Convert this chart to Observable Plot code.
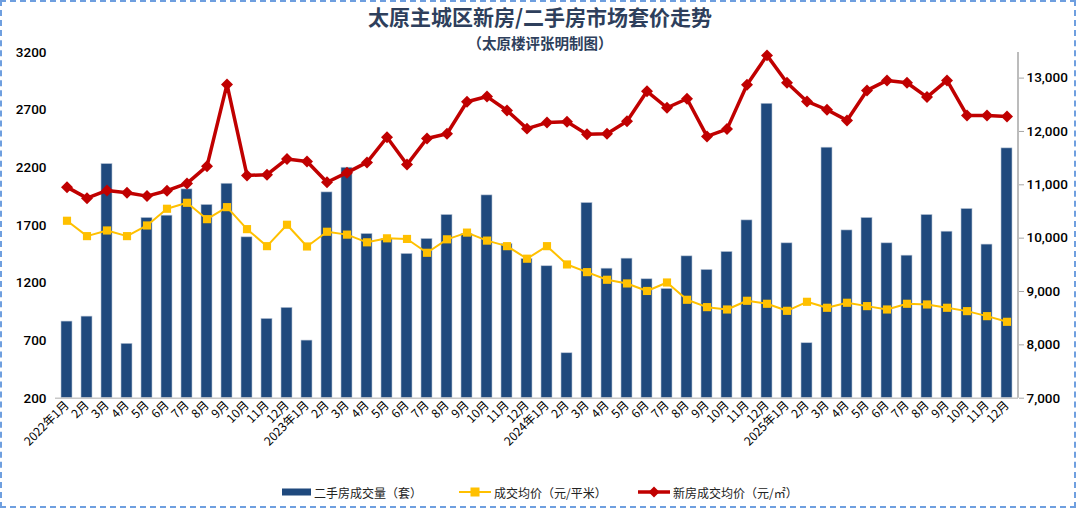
<!DOCTYPE html>
<html>
<head>
<meta charset="utf-8">
<script src="https://cdn.jsdelivr.net/npm/d3@7"></script>
<script src="https://cdn.jsdelivr.net/npm/@observablehq/plot@0.6"></script>
<style>
  html, body { margin: 0; padding: 0; background: #fff; }
  #wrap { position: relative; width: 1080px; height: 510px; overflow: hidden; font-family: "Noto Sans CJK SC", "Liberation Sans", sans-serif; }
  #border { position: absolute; left: 0; top: 0; width: 1076px; height: 508px; border: 2px dashed #6f9fdf; box-sizing: border-box; }
  #title { position: absolute; top: 1px; left: 0; width: 1080px; text-align: center; font-size: 21px; line-height: 1.45; font-weight: 700; color: #2e3f5c; }
  #subtitle { position: absolute; top: 31.5px; left: 0; width: 1080px; text-align: center; font-size: 14.5px; line-height: 1.45; font-weight: 700; color: #2e3f5c; }
  #chart { position: absolute; left: 0; top: 0; }
  .leg { position: absolute; top: 484px; height: 16px; display: flex; align-items: center; font-size: 12px; color: #222; white-space: nowrap; }
  .leg svg { margin-right: 3px; }
</style>
</head>
<body>
<div id="wrap">
  <div id="border"></div>
  <div id="chart"></div>
  <div id="title">太原主城区新房/二手房市场套价走势</div>
  <div id="subtitle">（太原楼评张明制图）</div>
  <div class="leg" style="left:282px"><svg width="29" height="8"><rect x="0" y="0.5" width="29" height="7" fill="#1F497D"></rect></svg>二手房成交量（套）</div>
  <div class="leg" style="left:459px"><svg width="32" height="12"><line x1="0" x2="32" y1="6" y2="6" stroke="#FFC000" stroke-width="2"></line><rect x="11.5" y="1.5" width="9" height="9" fill="#FFC000"></rect></svg>成交均价（元/平米）</div>
  <div class="leg" style="left:638px"><svg width="32" height="12"><line x1="0" x2="32" y1="6" y2="6" stroke="#C00000" stroke-width="3.5"></line><path d="M16,0.5 L21.5,6 L16,11.5 L10.5,6 Z" fill="#C00000"></path></svg>新房成交均价（元/㎡）</div>
</div>
<script>
// ---- data ----
const xLabels = [
  "2022年1月","2月","3月","4月","5月","6月","7月","8月","9月","10月","11月","12月",
  "2023年1月","2月","3月","4月","5月","6月","7月","8月","9月","10月","11月","12月",
  "2024年1月","2月","3月","4月","5月","6月","7月","8月","9月","10月","11月","12月",
  "2025年1月","2月","3月","4月","5月","6月","7月","8月","9月","10月","11月","12月"
];
// 二手房成交量（套） - left axis
const volume = [
  865, 908, 2232, 672, 1764, 1784, 2012, 1877, 2061, 1596, 888, 984,
  700, 1986, 2200, 1625, 1582, 1452, 1582, 1790, 1625, 1960, 1538, 1408,
  1345, 590, 1894, 1324, 1411, 1232, 1148, 1431, 1313, 1469, 1743, 2755,
  1544, 677, 2374, 1656, 1764, 1544, 1437, 1790, 1645, 1842, 1533, 2368
];
// 成交均价（元/平米） - right axis
const usedPrice = [
  10326, 10038, 10144, 10038, 10238, 10551, 10663, 10356, 10581, 10169, 9850, 10251,
  9844, 10120, 10066, 9922, 9997, 9985, 9726, 9978, 10104, 9954, 9850, 9615,
  9850, 9507, 9363, 9220, 9151, 9010, 9169, 8845, 8707, 8663, 8826, 8770,
  8638, 8807, 8695, 8789, 8726, 8663, 8770, 8757, 8695, 8632, 8538, 8432
];
// 新房成交均价（元/㎡） - right axis
const newPrice = [
  10956, 10750, 10894, 10851, 10788, 10889, 11026, 11350, 12882, 11176, 11189, 11485,
  11438, 11047, 11228, 11420, 11891, 11379, 11869, 11957, 12556, 12654, 12394, 12053,
  12166, 12180, 11948, 11957, 12191, 12753, 12444, 12613, 11907, 12044, 12876, 13426,
  12913, 12563, 12407, 12207, 12769, 12957, 12913, 12644, 12957, 12300, 12300, 12282
];
const leftTicks = [200, 700, 1200, 1700, 2200, 2700, 3200];
const rightTicks = [7000, 8000, 9000, 10000, 11000, 12000, 13000];
const leftDomain = [200, 3200];
const rightDomain = [7000, 13480];

// map right-axis values into left-axis space (dual axis)
const toLeft = v => leftDomain[0] + (v - rightDomain[0]) * (leftDomain[1] - leftDomain[0]) / (rightDomain[1] - rightDomain[0]);
const fromLeft = v => rightDomain[0] + (v - leftDomain[0]) * (rightDomain[1] - rightDomain[0]) / (leftDomain[1] - leftDomain[0]);

const idx = d3.range(xLabels.length);
const W = 1080, H = 470;
const mL = 55, mR = 62, mT = 52, mB = H - 397.7;

const chart = Plot.plot({
  width: W,
  height: H,
  marginLeft: mL,
  marginRight: mR,
  marginTop: mT,
  marginBottom: mB,
  style: { fontFamily: "Roboto, 'Liberation Sans', 'Noto Sans CJK SC', sans-serif", fontSize: "13px", color: "#000", background: "transparent", overflow: "visible" },
  x: { type: "band", domain: idx, paddingInner: 0.47, paddingOuter: 0.235, align: 0.5 },
  y: { domain: leftDomain },
  marks: [
    Plot.barY(idx, { x: i => i, y1: leftDomain[0], y2: i => volume[i], fill: "#1F497D", stroke: "#b9c5d6", strokeWidth: 0.6 }),
    Plot.ruleY([leftDomain[0]], { stroke: "#c8c8c8", strokeWidth: 1.5 }),
    Plot.line(idx, { x: i => i, y: i => toLeft(usedPrice[i]), stroke: "#FFC000", strokeWidth: 2 }),
    Plot.dot(idx, { x: i => i, y: i => toLeft(usedPrice[i]), symbol: "square", r: 4.6, fill: "#FFC000", stroke: "none" }),
    Plot.line(idx, { x: i => i, y: i => toLeft(newPrice[i]), stroke: "#C00000", strokeWidth: 3.5 }),
    Plot.dot(idx, { x: i => i, y: i => toLeft(newPrice[i]), symbol: "diamond2", r: 5.4, fill: "#C00000", stroke: "none" }),
    Plot.axisY({ anchor: "left", ticks: leftTicks, tickFormat: d => String(d), tickSize: 0, tickPadding: 9, label: null, fontSize: 13.5, fontWeight: 500 }),
    Plot.axisY({ anchor: "right", ticks: rightTicks.map(toLeft), tickFormat: d => d3.format(",")(Math.round(fromLeft(d))), tickSize: 5, tickPadding: 3, stroke: "#a6a6a6", label: null, fontSize: 13.5, fontWeight: 500 }),
    Plot.axisX({ tickRotate: -45, tickSize: 0, tickPadding: 5, tickFormat: i => xLabels[i], label: null, fontSize: 12, fontFamily: "'Noto Sans CJK SC', sans-serif" })
  ]
});

// right-hand axis line
const ys = chart.scale("y");
const xr = W - mR;
d3.select(chart).append("line")
  .attr("x1", xr).attr("x2", xr)
  .attr("y1", ys.range[0]).attr("y2", ys.range[1])
  .attr("stroke", "#a6a6a6").attr("stroke-width", 1.5);

document.getElementById("chart").appendChild(chart);
</script>
</body>
</html>
